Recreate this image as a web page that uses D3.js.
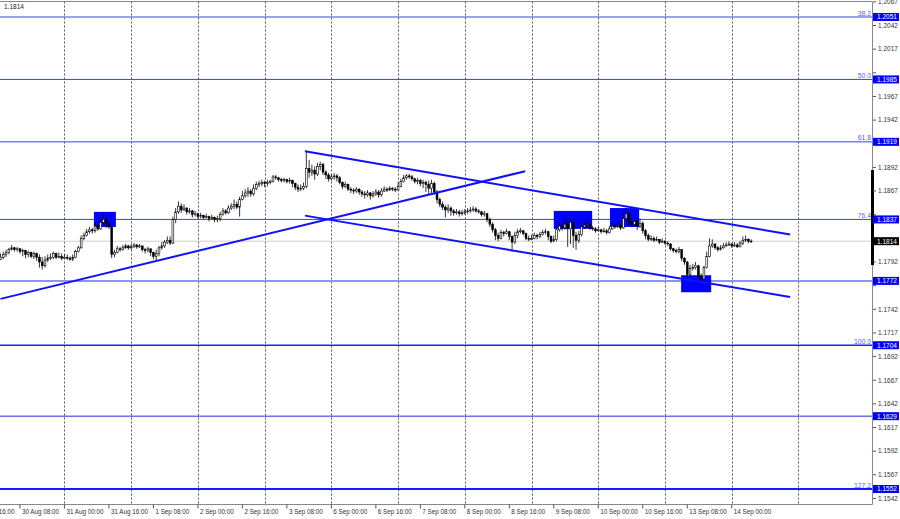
<!DOCTYPE html>
<html>
<head>
<meta charset="utf-8">
<script src="https://cdn.jsdelivr.net/npm/d3@7"></script>
<style>
  body { margin: 0; background: #fff; }
  svg text { font-family: "Liberation Sans", Arial, sans-serif; }
</style>
</head>
<body>
<svg id="chart" width="900" height="519"></svg>
<script>
// hourly bars per trading day: [close, high, low]
const days = ["30 Aug", "31 Aug", "1 Sep", "2 Sep", "3 Sep", "6 Sep", "7 Sep", "8 Sep", "9 Sep", "10 Sep", "13 Sep", "14 Sep"];
const firstOpen = 1.1795;

const aug30 = [
  [1.1797,1.1801,1.1794],[1.1800,1.1803,1.1795],[1.1802,1.1805,1.1797],[1.1805,1.1807,1.1800],
  [1.1807,1.1810,1.1804],[1.1805,1.1808,1.1803],[1.1806,1.1808,1.1803],[1.1803,1.1807,1.1801],
  [1.1804,1.1806,1.1798],[1.1800,1.1805,1.1796],[1.1802,1.1804,1.1797],[1.1798,1.1803,1.1796],
  [1.1801,1.1803,1.1795],[1.1797,1.1802,1.1793],[1.1792,1.1800,1.1786],[1.1788,1.1797,1.1784],
  [1.1794,1.1798,1.1786],[1.1796,1.1800,1.1792],[1.1797,1.1801,1.1794],[1.1801,1.1803,1.1795],
  [1.1797,1.1802,1.1795],[1.1798,1.1802,1.1796],[1.1796,1.1801,1.1794]
];
const aug31 = [
  [1.1797,1.1800,1.1795],[1.1796,1.1800,1.1794],[1.1795,1.1798,1.1793],[1.1797,1.1800,1.1793],
  [1.1803,1.1805,1.1796],[1.1807,1.1809,1.1802],[1.1817,1.1820,1.1806],[1.1820,1.1823,1.1815],
  [1.1824,1.1827,1.1819],[1.1826,1.1829,1.1822],[1.1825,1.1828,1.1822],[1.1830,1.1834,1.1823],
  [1.1827,1.1832,1.1825],[1.1834,1.1839,1.1826],[1.1837,1.1844,1.1832],[1.1832,1.1839,1.1828],
  [1.1829,1.1835,1.1827],[1.1800,1.1830,1.1796],[1.1802,1.1805,1.1797],[1.1806,1.1809,1.1801],
  [1.1805,1.1808,1.1803],[1.1807,1.1810,1.1804],[1.1809,1.1811,1.1806],[1.1807,1.1810,1.1805]
];
const sep1 = [
  [1.1808,1.1811,1.1805],[1.1810,1.1812,1.1807],[1.1808,1.1811,1.1806],[1.1809,1.1811,1.1807],
  [1.1805,1.1809,1.1803],[1.1804,1.1807,1.1801],[1.1806,1.1808,1.1802],[1.1802,1.1806,1.1798],
  [1.1798,1.1803,1.1795],[1.1801,1.1805,1.1794],[1.1807,1.1809,1.1798],[1.1809,1.1813,1.1805],
  [1.1813,1.1815,1.1807],[1.1815,1.1819,1.1811],[1.1812,1.1819,1.1810],[1.1837,1.1840,1.1811],
  [1.1845,1.1849,1.1833],[1.1851,1.1856,1.1843],[1.1847,1.1854,1.1844],[1.1849,1.1853,1.1846],
  [1.1845,1.1850,1.1842],[1.1846,1.1849,1.1843],[1.1842,1.1847,1.1839],[1.1843,1.1846,1.1840]
];
const sep2 = [
  [1.1840,1.1844,1.1838],[1.1841,1.1844,1.1838],[1.1839,1.1842,1.1837],[1.1840,1.1843,1.1838],
  [1.1838,1.1841,1.1835],[1.1839,1.1842,1.1837],[1.1837,1.1840,1.1834],[1.1838,1.1841,1.1834],
  [1.1842,1.1845,1.1835],[1.1846,1.1849,1.1841],[1.1844,1.1848,1.1842],[1.1849,1.1852,1.1843],
  [1.1851,1.1854,1.1847],[1.1853,1.1858,1.1848],[1.1850,1.1856,1.1848],[1.1858,1.1861,1.1840],
  [1.1862,1.1867,1.1857],[1.1865,1.1869,1.1860],[1.1867,1.1871,1.1861],[1.1864,1.1869,1.1861],
  [1.1870,1.1874,1.1862],[1.1874,1.1877,1.1868],[1.1875,1.1878,1.1871],[1.1876,1.1879,1.1872]
];
const sep3 = [
  [1.1875,1.1878,1.1871],[1.1876,1.1879,1.1872],[1.1877,1.1879,1.1874],[1.1882,1.1884,1.1876],
  [1.1881,1.1884,1.1879],[1.1879,1.1882,1.1877],[1.1878,1.1881,1.1876],[1.1879,1.1881,1.1876],
  [1.1877,1.1880,1.1875],[1.1878,1.1881,1.1875],[1.1875,1.1879,1.1871],[1.1871,1.1876,1.1868],
  [1.1869,1.1874,1.1866],[1.1870,1.1874,1.1867],[1.1872,1.1876,1.1868],[1.1891,1.1908,1.1870],
  [1.1887,1.1900,1.1881],[1.1889,1.1895,1.1883],[1.1885,1.1893,1.1879],[1.1893,1.1897,1.1883],
  [1.1895,1.1898,1.1889],[1.1887,1.1897,1.1884],[1.1884,1.1889,1.1880],[1.1880,1.1886,1.1877]
];
const sep6 = [
  [1.1882,1.1885,1.1878],[1.1883,1.1886,1.1879],[1.1881,1.1885,1.1877],[1.1876,1.1883,1.1874],
  [1.1872,1.1877,1.1869],[1.1874,1.1877,1.1870],[1.1869,1.1875,1.1867],[1.1868,1.1871,1.1865],
  [1.1867,1.1870,1.1864],[1.1869,1.1871,1.1865],[1.1866,1.1870,1.1863],[1.1864,1.1868,1.1861],
  [1.1863,1.1867,1.1859],[1.1865,1.1868,1.1861],[1.1862,1.1866,1.1858],[1.1864,1.1867,1.1860],
  [1.1866,1.1869,1.1862],[1.1863,1.1868,1.1860],[1.1867,1.1870,1.1861],[1.1869,1.1872,1.1866],
  [1.1868,1.1871,1.1866],[1.1870,1.1872,1.1867],[1.1869,1.1871,1.1867],[1.1868,1.1871,1.1866]
];
const sep7 = [
  [1.1872,1.1876,1.1868],[1.1877,1.1880,1.1871],[1.1881,1.1884,1.1876],[1.1883,1.1885,1.1879],
  [1.1882,1.1885,1.1880],[1.1880,1.1884,1.1878],[1.1877,1.1881,1.1875],[1.1878,1.1881,1.1874],
  [1.1875,1.1880,1.1872],[1.1876,1.1879,1.1870],[1.1874,1.1878,1.1866],[1.1870,1.1878,1.1864],
  [1.1875,1.1879,1.1865],[1.1866,1.1877,1.1863],[1.1858,1.1868,1.1854],[1.1853,1.1860,1.1850],
  [1.1850,1.1856,1.1847],[1.1847,1.1852,1.1839],[1.1849,1.1853,1.1844],[1.1846,1.1851,1.1841],
  [1.1844,1.1848,1.1841],[1.1845,1.1848,1.1842],[1.1843,1.1847,1.1840],[1.1844,1.1847,1.1841]
];
const sep8 = [
  [1.1845,1.1848,1.1842],[1.1846,1.1849,1.1843],[1.1847,1.1850,1.1844],[1.1848,1.1851,1.1845],
  [1.1846,1.1850,1.1844],[1.1845,1.1848,1.1843],[1.1842,1.1846,1.1840],[1.1843,1.1846,1.1840],
  [1.1837,1.1844,1.1834],[1.1832,1.1839,1.1829],[1.1826,1.1834,1.1823],[1.1820,1.1828,1.1815],
  [1.1817,1.1823,1.1814],[1.1823,1.1826,1.1816],[1.1822,1.1825,1.1819],[1.1824,1.1827,1.1821],
  [1.1819,1.1825,1.1815],[1.1813,1.1820,1.1803],[1.1820,1.1824,1.1811],[1.1824,1.1827,1.1817],
  [1.1825,1.1828,1.1822],[1.1822,1.1826,1.1820],[1.1817,1.1823,1.1815],[1.1816,1.1820,1.1814]
];
const sep9 = [
  [1.1817,1.1821,1.1815],[1.1820,1.1823,1.1816],[1.1819,1.1822,1.1816],[1.1821,1.1824,1.1817],
  [1.1823,1.1826,1.1820],[1.1824,1.1827,1.1821],[1.1819,1.1825,1.1815],[1.1814,1.1820,1.1812],
  [1.1816,1.1820,1.1813],[1.1826,1.1830,1.1814],[1.1830,1.1834,1.1824],[1.1828,1.1834,1.1825],
  [1.1832,1.1838,1.1826],[1.1827,1.1837,1.1808],[1.1834,1.1840,1.1811],[1.1820,1.1835,1.1807],
  [1.1815,1.1824,1.1805],[1.1821,1.1825,1.1812],[1.1829,1.1833,1.1819],[1.1831,1.1835,1.1827],
  [1.1832,1.1837,1.1828],[1.1828,1.1834,1.1826],[1.1827,1.1830,1.1825],[1.1825,1.1829,1.1823]
];
const sep10 = [
  [1.1826,1.1829,1.1824],[1.1824,1.1827,1.1822],[1.1825,1.1828,1.1823],[1.1823,1.1827,1.1821],
  [1.1827,1.1830,1.1822],[1.1830,1.1833,1.1826],[1.1829,1.1833,1.1827],[1.1831,1.1834,1.1828],
  [1.1828,1.1833,1.1826],[1.1838,1.1842,1.1827],[1.1843,1.1849,1.1835],[1.1834,1.1844,1.1831],
  [1.1832,1.1838,1.1829],[1.1835,1.1839,1.1830],[1.1830,1.1837,1.1826],[1.1833,1.1838,1.1828],
  [1.1825,1.1835,1.1822],[1.1820,1.1827,1.1816],[1.1816,1.1822,1.1814],[1.1817,1.1820,1.1814],
  [1.1815,1.1819,1.1813],[1.1816,1.1819,1.1814],[1.1813,1.1816,1.1811],[1.1814,1.1817,1.1812]
];
const sep13 = [
  [1.1812,1.1815,1.1810],[1.1811,1.1814,1.1809],[1.1806,1.1812,1.1804],[1.1804,1.1807,1.1802],
  [1.1803,1.1806,1.1801],[1.1805,1.1808,1.1801],[1.1796,1.1805,1.1793],[1.1792,1.1797,1.1789],
  [1.1779,1.1793,1.1776],[1.1785,1.1789,1.1777],[1.1786,1.1790,1.1783],[1.1788,1.1792,1.1784],
  [1.1777,1.1789,1.1775],[1.1774,1.1780,1.1771],[1.1786,1.1788,1.1773],[1.1798,1.1803,1.1785],
  [1.1809,1.1817,1.1797],[1.1811,1.1816,1.1807],[1.1807,1.1812,1.1805],[1.1805,1.1809,1.1803],
  [1.1807,1.1810,1.1804],[1.1809,1.1812,1.1806],[1.1810,1.1813,1.1808],[1.1811,1.1814,1.1809]
];
const sep14 = [
  [1.1809,1.1812,1.1807],[1.1810,1.1813,1.1808],[1.1808,1.1812,1.1807],[1.1812,1.1814,1.1809],
  [1.1815,1.1819,1.1810],[1.1816,1.1820,1.1813],[1.1814,1.1817,1.1812],[1.1814,1.1816,1.1812]
];
const dayBars = [aug30, aug31, sep1, sep2, sep3, sep6, sep7, sep8, sep9, sep10, sep13, sep14];

// horizontal levels and their fibo labels
const levels    = [1.2051, 1.1985, 1.1919, 1.1837, 1.1772, 1.1704, 1.1629, 1.1552];
const fiboTags  = ["38.2", "50.0", "61.8", "76.4", "", "100.0", "", "127.2"];
const lastPrice = 1.1814;

// trend lines in (bar index, price)
const trendLines = [
  [[0, 1.1753], [188.7, 1.1888]],
  [[109.5, 1.1909], [284, 1.1821]],
  [[109.5, 1.1841], [284, 1.1755]]
];
// highlighted zones: bar from, bar to, top price, bottom price
const zones = [
  [33.6, 41.5, 1.1845, 1.1829],
  [199.0, 212.8, 1.1846, 1.1827],
  [219.2, 229.7, 1.1849, 1.1829],
  [244.8, 255.6, 1.1778, 1.1760]
];

const yTicks = [1.2067, 1.2042, 1.2017, 1.1992, 1.1967, 1.1942, 1.1917, 1.1892, 1.1867, 1.1842, 1.1817,
  1.1792, 1.1767, 1.1742, 1.1717, 1.1692, 1.1667, 1.1642, 1.1617, 1.1592, 1.1567, 1.1542];
const xTickLabels = ["27 Aug 16:00", "30 Aug 08:00", "31 Aug 00:00", "31 Aug 16:00", "1 Sep 08:00", "2 Sep 00:00",
  "2 Sep 16:00", "3 Sep 08:00", "6 Sep 00:00", "6 Sep 16:00", "7 Sep 08:00", "8 Sep 00:00", "8 Sep 16:00",
  "9 Sep 08:00", "10 Sep 00:00", "10 Sep 16:00", "13 Sep 08:00", "14 Sep 00:00"];
const firstLabelBar = -9, labelStep = 16;

// build candles
let candles = [];
let dayStarts = [];
let prev = firstOpen;
dayBars.forEach(bars => {
  dayStarts.push(candles.length);
  bars.forEach(b => {
    candles.push({ i: candles.length, o: prev, c: b[0], h: b[1], l: b[2] });
    prev = b[0];
  });
});
// the first day starts at 01:00, so its grid line falls just off the left edge
dayStarts.push(dayStarts[dayStarts.length - 1] + 24);

const svg = d3.select("#chart");
const plotR = 872, plotT = 1.5, plotB = 504.5;

const x = d3.scaleLinear().domain([0, candles.length - 1]).range([0.5, 751.2]);
const y = d3.scaleLinear().domain([1.1552, 1.2051]).range([489, 17]);

const plot = svg.append("g");
plot.append("clipPath").attr("id", "clip")
  .append("rect").attr("x", 0).attr("y", plotT).attr("width", plotR).attr("height", plotB - plotT);

// day grid
plot.selectAll(".grid").data(dayStarts.slice(1)).enter().append("line")
  .attr("x1", d => Math.round(x(d)) + 0.5).attr("x2", d => Math.round(x(d)) + 0.5)
  .attr("y1", plotT).attr("y2", plotB)
  .attr("stroke", "#555").attr("stroke-width", 1).attr("stroke-dasharray", "2,2");

// last price line
plot.append("line")
  .attr("x1", 0).attr("x2", plotR).attr("y1", y(lastPrice)).attr("y2", y(lastPrice))
  .attr("stroke", "#cfcfcf").attr("stroke-width", 1);

// horizontal levels
const levelStyle = [
  { c: "#3c3cff", w: 1 }, { c: "#3c3cff", w: 1 }, { c: "#3c3cff", w: 1 }, { c: "#3c3cff", w: 1 },
  { c: "#9090ff", w: 2 }, { c: "#2020ff", w: 1.5 }, { c: "#2a2ad0", w: 1 }, { c: "#1a1aff", w: 2 }
];
levels.forEach((lv, k) => {
  plot.append("line")
    .attr("x1", 0).attr("x2", plotR).attr("y1", y(lv)).attr("y2", y(lv))
    .attr("stroke", levelStyle[k].c).attr("stroke-width", levelStyle[k].w);
  if (fiboTags[k]) {
    plot.append("text")
      .attr("x", plotR - 1).attr("y", y(lv) - 1.5)
      .attr("text-anchor", "end").attr("font-size", "6.8px").attr("fill", "#5a5aff")
      .text(fiboTags[k]);
  }
});

// zones
plot.selectAll(".zone").data(zones).enter().append("rect")
  .attr("x", d => x(d[0])).attr("width", d => x(d[1]) - x(d[0]))
  .attr("y", d => y(d[2])).attr("height", d => y(d[3]) - y(d[2]))
  .attr("fill", "#0000ff");

// candles
const cg = plot.append("g").attr("clip-path", "url(#clip)");
cg.selectAll(".wick").data(candles).enter().append("line")
  .attr("x1", d => x(d.i)).attr("x2", d => x(d.i))
  .attr("y1", d => y(d.h)).attr("y2", d => y(d.l))
  .attr("stroke", "#000").attr("stroke-width", 0.8);
cg.selectAll(".body").data(candles).enter().append("rect")
  .attr("x", d => x(d.i) - 0.9).attr("width", 1.8)
  .attr("y", d => y(Math.max(d.o, d.c)))
  .attr("height", d => Math.max(0.6, Math.abs(y(d.o) - y(d.c))))
  .attr("fill", d => d.c >= d.o ? "#fff" : "#000")
  .attr("stroke", "#000").attr("stroke-width", 0.6);

// trend lines
plot.selectAll(".trend").data(trendLines).enter().append("line")
  .attr("x1", d => x(d[0][0])).attr("y1", d => y(d[0][1]))
  .attr("x2", d => x(d[1][0])).attr("y2", d => y(d[1][1]))
  .attr("stroke", "#1010ff").attr("stroke-width", 2);

// frame
svg.append("line").attr("x1", 0).attr("x2", plotR).attr("y1", plotT).attr("y2", plotT).attr("stroke", "#888");
svg.append("line").attr("x1", 0).attr("x2", plotR + 0.5).attr("y1", plotB).attr("y2", plotB).attr("stroke", "#888");
svg.append("line").attr("x1", plotR + 0.5).attr("x2", plotR + 0.5).attr("y1", plotT).attr("y2", plotB).attr("stroke", "#888");
svg.append("rect").attr("x", plotR - 1).attr("y", 170).attr("width", 3).attr("height", 95).attr("fill", "#000");

// price tags on the axis
const tags = levels.map(v => ({ v, bg: "#0000ff" })).concat([{ v: lastPrice, bg: "#000" }]);

// right axis ticks (labels hidden where a price tag sits on top of them)
const ya = svg.append("g");
yTicks.forEach(t => {
  ya.append("line").attr("x1", plotR + 1).attr("x2", plotR + 4).attr("y1", y(t)).attr("y2", y(t)).attr("stroke", "#555");
  const covered = tags.some(g => Math.abs(y(g.v) - y(t)) < 7.5);
  if (!covered) {
    ya.append("text").attr("x", plotR + 6).attr("y", y(t) + 2.3)
      .attr("font-size", "6.5px").attr("fill", "#333").text(t.toFixed(4));
  }
});

tags.forEach(t => {
  ya.append("rect").attr("x", plotR + 1).attr("y", y(t.v) - 4).attr("width", 26).attr("height", 8).attr("fill", t.bg);
  ya.append("text").attr("x", plotR + 5).attr("y", y(t.v) + 2.4)
    .attr("font-size", "6.5px").attr("fill", "#fff").text(t.v.toFixed(4));
});

// bottom axis labels
const xa = svg.append("g");
xTickLabels.forEach((lab, k) => {
  const px = x(firstLabelBar + k * labelStep);
  xa.append("line").attr("x1", px).attr("x2", px).attr("y1", plotB).attr("y2", plotB + 4).attr("stroke", "#555");
  xa.append("text").attr("x", px + 2).attr("y", plotB + 9)
    .attr("font-size", "6.3px").attr("fill", "#333").text(lab);
});

// header price
svg.append("text").attr("x", 4).attr("y", 8.5).attr("font-size", "6.5px").attr("fill", "#222").text(lastPrice.toFixed(4));
</script>
</body>
</html>
